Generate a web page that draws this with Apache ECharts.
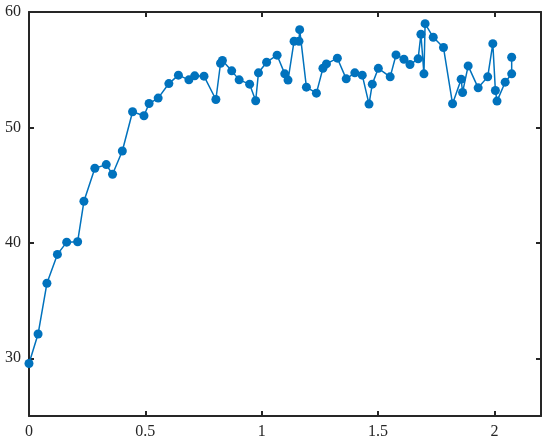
<!DOCTYPE html>
<html>
<head>
<meta charset="utf-8">
<script src="https://cdn.jsdelivr.net/npm/echarts@6/dist/echarts.min.js"></script>
<style>
  html, body { margin: 0; padding: 0; background: #fff; }
  #chart { width: 550px; height: 444px; }
</style>
</head>
<body>
<div id="chart"></div>
<script>
// values
const xValues = [0, 0.039, 0.077, 0.122, 0.162, 0.209, 0.236, 0.283, 0.332, 0.359,
  0.401, 0.445, 0.494, 0.516, 0.555, 0.601, 0.642, 0.687, 0.712, 0.752,
  0.803, 0.823, 0.831, 0.871, 0.903, 0.948, 0.974, 0.986, 1.021, 1.066,
  1.099, 1.113, 1.139, 1.16, 1.163, 1.192, 1.235, 1.263, 1.278, 1.325,
  1.363, 1.4, 1.432, 1.461, 1.475, 1.501, 1.552, 1.577, 1.611, 1.637,
  1.672, 1.684, 1.697, 1.702, 1.737, 1.781, 1.82, 1.857, 1.863, 1.887,
  1.93, 1.971, 1.993, 2.004, 2.011, 2.046, 2.074, 2.074];
const yValues = [29.55, 32.1, 36.5, 39.0, 40.06, 40.1, 43.6, 46.46, 46.78, 45.94,
  47.96, 51.36, 51.01, 52.07, 52.54, 53.8, 54.53, 54.12, 54.47, 54.44,
  52.42, 55.56, 55.8, 54.9, 54.12, 53.75, 52.31, 54.73, 55.65, 56.26,
  54.64, 54.1, 57.47, 57.47, 58.47, 53.49, 52.97, 55.13, 55.5, 56.0,
  54.21, 54.73, 54.53, 52.02, 53.75, 55.12, 54.38, 56.28, 55.91, 55.45,
  55.94, 58.07, 54.64, 58.99, 57.81, 56.92, 52.05, 54.18, 53.03, 55.33,
  53.43, 54.38, 57.26, 53.2, 52.28, 53.92, 54.64, 56.08];
const xTicks = [0, 0.5, 1, 1.5, 2];
const yTicks = [30, 40, 50, 60];

const chart = echarts.init(document.getElementById('chart'));
const axisColor = '#262626';
const labelFont = { color: axisColor, fontFamily: 'Liberation Serif', fontSize: 16 };

function frameAxis(pos, ticks, range, showLabel) {
  return {
    type: 'value',
    position: pos,
    min: range[0],
    max: range[1],
    axisLine: { show: true, onZero: false, lineStyle: { color: axisColor, width: 2 } },
    axisTick: { show: true, inside: true, length: 5, customValues: ticks,
      lineStyle: { color: axisColor, width: 2 } },
    axisLabel: Object.assign({ show: showLabel, customValues: ticks, margin: 8 }, labelFont),
    splitLine: { show: false }
  };
}

chart.setOption({
  animation: false,
  grid: { left: 29, right: 9, top: 12, bottom: 28 },
  xAxis: [
    frameAxis('bottom', xTicks, [0, 2.2], true),
    frameAxis('top', xTicks, [0, 2.2], false)
  ],
  yAxis: [
    frameAxis('left', yTicks, [25, 60], true),
    frameAxis('right', yTicks, [25, 60], false)
  ],
  series: [{
    type: 'line',
    data: xValues.map((x, i) => [x, yValues[i]]),
    symbol: 'circle',
    symbolSize: 9,
    showAllSymbol: true,
    clip: false,
    itemStyle: { color: '#0072BD' },
    lineStyle: { color: '#0072BD', width: 1.5 }
  }]
});
</script>
</body>
</html>
